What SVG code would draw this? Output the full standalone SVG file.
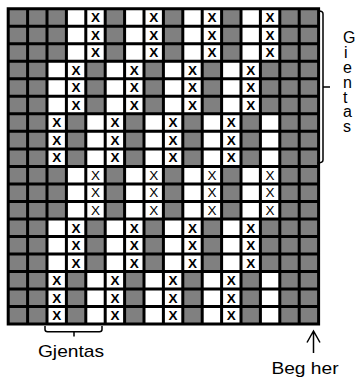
<svg xmlns="http://www.w3.org/2000/svg" xmlns:xlink="http://www.w3.org/1999/xlink" width="356" height="379" viewBox="0 0 356 379">
<style>
.g{fill:#808080}
.x{font-family:"Liberation Sans",Arial,sans-serif;font-size:13.5px;text-anchor:middle;fill:#000}
.lbl{font-family:"Liberation Sans",Arial,sans-serif;font-size:16px;fill:#000}
.ln{fill:none;stroke:#000;stroke-width:1.5}
</style>
<defs>
<g id="bandA">
<rect class="g" x="8.2" y="0" width="58.2" height="52.53"/>
<rect class="g" x="105.2" y="0" width="19.4" height="52.53"/>
<rect class="g" x="163.4" y="0" width="19.4" height="52.53"/>
<rect class="g" x="221.6" y="0" width="19.4" height="52.53"/>
<rect class="g" x="279.8" y="0" width="38.8" height="52.53"/>
<g class="x">
<text x="95.5" y="13.6">X</text><text x="153.7" y="13.6">X</text><text x="211.9" y="13.6">X</text><text x="270.1" y="13.6">X</text>
<text x="95.5" y="31.1">X</text><text x="153.7" y="31.1">X</text><text x="211.9" y="31.1">X</text><text x="270.1" y="31.1">X</text>
<text x="95.5" y="48.6">X</text><text x="153.7" y="48.6">X</text><text x="211.9" y="48.6">X</text><text x="270.1" y="48.6">X</text>
</g>
</g>
<g id="bandB">
<rect class="g" x="8.2" y="0" width="38.8" height="52.53"/>
<rect class="g" x="85.8" y="0" width="19.4" height="52.53"/>
<rect class="g" x="144" y="0" width="19.4" height="52.53"/>
<rect class="g" x="202.2" y="0" width="19.4" height="52.53"/>
<rect class="g" x="260.4" y="0" width="58.2" height="52.53"/>
<g class="x">
<text x="76.1" y="13.6">X</text><text x="134.3" y="13.6">X</text><text x="192.5" y="13.6">X</text><text x="250.7" y="13.6">X</text>
<text x="76.1" y="31.1">X</text><text x="134.3" y="31.1">X</text><text x="192.5" y="31.1">X</text><text x="250.7" y="31.1">X</text>
<text x="76.1" y="48.6">X</text><text x="134.3" y="48.6">X</text><text x="192.5" y="48.6">X</text><text x="250.7" y="48.6">X</text>
</g>
</g>
<g id="bandC">
<rect class="g" x="8.2" y="0" width="38.8" height="52.53"/>
<rect class="g" x="66.4" y="0" width="19.4" height="52.53"/>
<rect class="g" x="124.6" y="0" width="19.4" height="52.53"/>
<rect class="g" x="182.8" y="0" width="19.4" height="52.53"/>
<rect class="g" x="241" y="0" width="19.4" height="52.53"/>
<rect class="g" x="279.8" y="0" width="38.8" height="52.53"/>
<g class="x">
<text x="56.7" y="13.6">X</text><text x="114.9" y="13.6">X</text><text x="173.1" y="13.6">X</text><text x="231.3" y="13.6">X</text>
<text x="56.7" y="31.1">X</text><text x="114.9" y="31.1">X</text><text x="173.1" y="31.1">X</text><text x="231.3" y="31.1">X</text>
<text x="56.7" y="48.6">X</text><text x="114.9" y="48.6">X</text><text x="173.1" y="48.6">X</text><text x="231.3" y="48.6">X</text>
</g>
</g>
</defs>
<rect width="356" height="379" fill="#fff"/>
<g id="chart">
<use xlink:href="#bandA" href="#bandA" y="8.8" font-weight="bold"/>
<use xlink:href="#bandB" href="#bandB" y="61.33" font-weight="bold"/>
<use xlink:href="#bandC" href="#bandC" y="113.86" font-weight="bold"/>
<use xlink:href="#bandA" href="#bandA" y="166.39" font-weight="normal"/>
<use xlink:href="#bandB" href="#bandB" y="218.92" font-weight="bold"/>
<use xlink:href="#bandC" href="#bandC" y="271.45" font-weight="bold"/>
<path fill="none" stroke="#000" stroke-width="3" stroke-linecap="square" d="M8.2 8.8V323.98M27.6 8.8V323.98M47 8.8V323.98M66.4 8.8V323.98M85.8 8.8V323.98M105.2 8.8V323.98M124.6 8.8V323.98M144 8.8V323.98M163.4 8.8V323.98M182.8 8.8V323.98M202.2 8.8V323.98M221.6 8.8V323.98M241 8.8V323.98M260.4 8.8V323.98M279.8 8.8V323.98M299.2 8.8V323.98M318.6 8.8V323.98M8.2 8.8H318.6M8.2 26.31H318.6M8.2 43.82H318.6M8.2 61.33H318.6M8.2 78.84H318.6M8.2 96.35H318.6M8.2 113.86H318.6M8.2 131.37H318.6M8.2 148.88H318.6M8.2 166.39H318.6M8.2 183.9H318.6M8.2 201.41H318.6M8.2 218.92H318.6M8.2 236.43H318.6M8.2 253.94H318.6M8.2 271.45H318.6M8.2 288.96H318.6M8.2 306.47H318.6M8.2 323.98H318.6"/>
</g>
<g id="connectors">
<path class="ln" d="M319 11Q323 11 323 14V160Q323 163 317 163M323 87H330"/>
<path class="ln" d="M45 326V329.5Q45 331.7 47.5 331.7H99.5Q102 331.7 102 329.5V326M74 331.7V336.5"/>
<path class="ln" d="M313.5 331V353M307 342.5L313.5 331L320 342.5"/>
</g>
<g id="label-right" class="lbl">
<text x="343" y="43.3">G</text>
<text x="344" y="58.1">i</text>
<text x="343" y="72.9">e</text>
<text x="343" y="87.7">n</text>
<text x="343" y="102.5">t</text>
<text x="343" y="117.3">a</text>
<text x="343" y="132.1">s</text>
</g>
<g id="label-bottom">
<text class="lbl" transform="translate(71 356.5) scale(1.2 1)" text-anchor="middle">Gjentas</text>
</g>
<g id="label-start">
<text class="lbl" transform="translate(305 374) scale(1.2 1)" text-anchor="middle">Beg her</text>
</g>
</svg>
